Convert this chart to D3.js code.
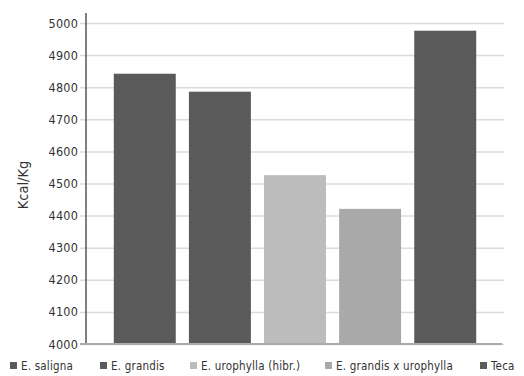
<!DOCTYPE html>
<html>
<head>
<meta charset="utf-8">
<script src="https://cdn.jsdelivr.net/npm/d3@7"></script>
<style>
  html, body { margin: 0; padding: 0; background: #fff; }
  svg { display: block; }
  text { font-family: "DejaVu Sans Condensed", "Liberation Sans", sans-serif; fill: #333; }
</style>
</head>
<body>
<svg id="chart" width="524" height="376"></svg>
<script>
// Poder calorífico por espécie (Kcal/Kg)
const categories = ["E. saligna", "E. grandis", "E. urophylla (hibr.)", "E. grandis x urophylla", "Teca"];
const values = [4842, 4786, 4526, 4421, 4976];
const colors = ["#5a5a5a", "#5a5a5a", "#bcbcbc", "#a9a9a9", "#5a5a5a"];
const yTicks = [4000, 4100, 4200, 4300, 4400, 4500, 4600, 4700, 4800, 4900, 5000];
const yLabel = "Kcal/Kg";

const svg = d3.select("#chart");
const plotLeft = 86, plotRight = 504, plotTop = 23, plotBottom = 344;

const x = d3.scaleBand().domain(categories).range([plotLeft, plotRight])
  .paddingInner(0.175).paddingOuter(0.37);
const y = d3.scaleLinear().domain([4000, 5000]).range([plotBottom, plotTop]);

// horizontal gridlines with short ticks left of the axis
const yAxis = d3.axisLeft(y).tickValues(yTicks).tickFormat(d3.format("d"))
  .tickSize(-(plotRight - plotLeft)).tickPadding(3);
const gy = svg.append("g").attr("transform", `translate(${plotLeft},0)`).call(yAxis);
gy.select(".domain").remove();
gy.selectAll(".tick line").attr("x1", -6).attr("stroke", "#dcdcdc").attr("stroke-width", 1.5);
gy.selectAll(".tick text").attr("x", -8).style("font-size", "12.5px").attr("fill", "#333")
  .style("letter-spacing", "0.2px");

// bars
svg.append("g").selectAll("rect").data(categories).join("rect")
  .attr("x", d => x(d))
  .attr("width", x.bandwidth())
  .attr("y", (d, i) => y(values[i]))
  .attr("height", (d, i) => y(4000) - y(values[i]))
  .attr("fill", (d, i) => colors[i]);

// vertical axis line and base line
svg.append("line").attr("x1", plotLeft).attr("x2", plotLeft)
  .attr("y1", y(5000) - 10).attr("y2", y(4000))
  .attr("stroke", "#555").attr("stroke-width", 1.5);
svg.append("line").attr("x1", plotLeft - 6).attr("x2", plotRight - 2)
  .attr("y1", y(4000)).attr("y2", y(4000))
  .attr("stroke", "#aaa").attr("stroke-width", 2);

// y axis title
svg.append("text")
  .attr("transform", "translate(28,185) rotate(-90)")
  .attr("text-anchor", "middle")
  .style("font-size", "14.5px").attr("fill", "#333")
  .text(yLabel);

// legend
const legendX = [10, 100, 190, 325, 480];
const lg = svg.append("g").selectAll("g").data(categories).join("g")
  .attr("transform", (d, i) => `translate(${legendX[i]},362)`);
lg.append("rect").attr("width", 7).attr("height", 7).attr("fill", (d, i) => colors[i]);
lg.append("text").attr("x", 11).attr("y", 7.5)
  .style("font-size", "11.5px").style("letter-spacing", "0.2px").attr("fill", "#2e2e2e")
  .text(d => d);
</script>
</body>
</html>
